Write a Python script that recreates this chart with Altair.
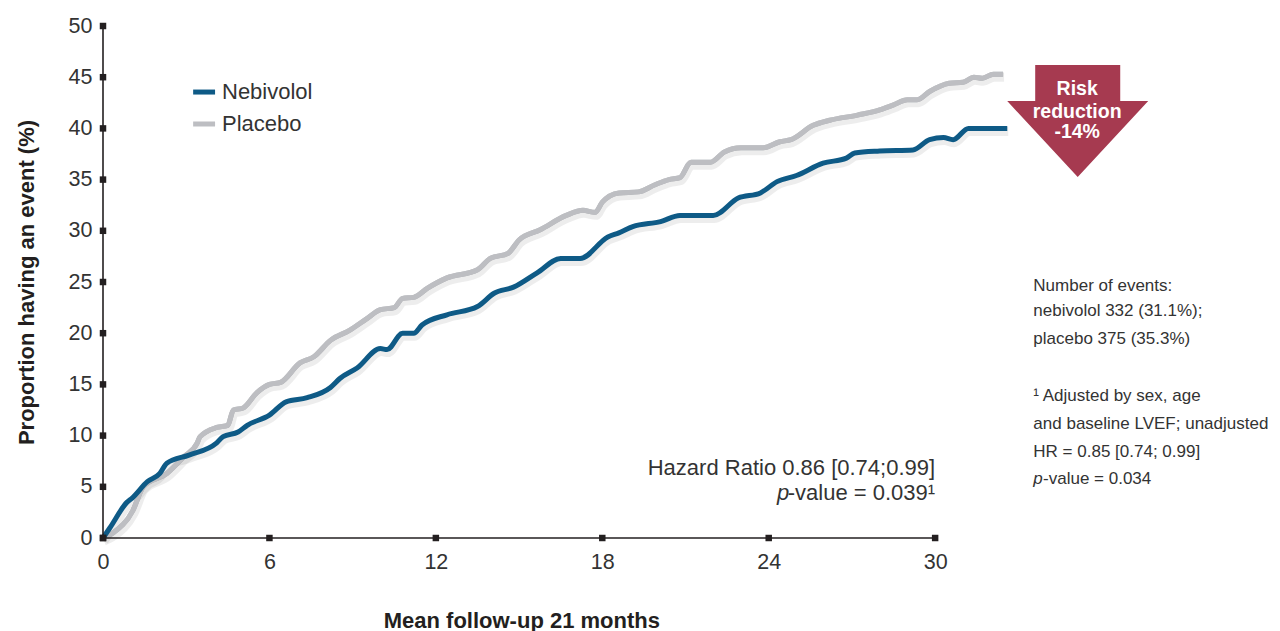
import altair as alt
import pandas as pd

# ---- data ----
neb_month = [0, 0.25, 0.87, 1.05, 1.6, 2.05, 2.3, 3.1, 4.1, 4.33, 4.87, 5.2, 6.0, 6.6, 7.36, 8.2, 8.55,
             9.16, 10.0, 10.24, 10.8, 11.2, 11.5, 12.4, 13.5, 14.1, 14.8, 15.65, 16.5, 17.2, 18.2, 18.6,
             19.1, 20.1, 20.8, 22.0, 22.9, 23.7, 24.3, 25.0, 25.96, 26.8, 27.1, 28.0, 29.2, 29.8, 30.3,
             30.65, 31.2, 32.6]
neb_value = [0, 1.0, 3.5, 3.9, 5.5, 6.3, 7.3, 8.1, 9.3, 9.9, 10.35, 11.0, 12.0, 13.3, 13.7, 14.7, 15.6,
             16.6, 18.5, 18.4, 20.0, 20.0, 20.8, 21.8, 22.6, 23.9, 24.5, 25.9, 27.3, 27.3, 29.4, 29.8,
             30.4, 30.9, 31.5, 31.5, 33.2, 33.7, 34.8, 35.4, 36.6, 37.1, 37.6, 37.8, 37.9, 38.9, 39.1,
             38.9, 40.0, 40.0]
pla_month = [0, 0.36, 1.08, 1.45, 2.3, 2.9, 3.4, 3.5, 4.1, 4.5, 4.7, 5.05, 5.55, 6.0, 6.4, 7.1, 7.6, 8.2,
             8.9, 9.5, 10.0, 10.5, 10.8, 11.2, 11.7, 12.4, 13.5, 13.96, 14.6, 15.0, 15.76, 16.7, 17.3,
             17.74, 18.0, 18.6, 19.3, 19.9, 20.4, 20.8, 21.2, 21.9, 22.4, 23.0, 23.8, 24.4, 24.8, 25.6,
             26.2, 27.2, 28.0, 28.5, 29.0, 29.35, 29.8, 30.5, 31.0, 31.4, 31.7, 32.1, 32.45]
pla_value = [0, 0.5, 2.7, 5.0, 6.3, 7.9, 9.3, 9.9, 10.8, 11.0, 12.5, 12.7, 14.2, 15.0, 15.2, 17.1, 17.7, 19.3,
             20.3, 21.4, 22.3, 22.5, 23.4, 23.5, 24.4, 25.4, 26.2, 27.3, 27.8, 29.1, 30.1, 31.5, 32.0,
             31.8, 32.8, 33.7, 33.8, 34.5, 35.0, 35.2, 36.7, 36.7, 37.7, 38.1, 38.1, 38.7, 38.9, 40.3,
             40.8, 41.3, 41.8, 42.3, 42.8, 42.8, 43.6, 44.4, 44.5, 45.0, 44.9, 45.3, 45.3]

series_names = ["Nebivolol", "Placebo"]
series_colors = ["#0E5A86", "#BDBEC2"]
x_ticks = [0, 6, 12, 18, 24, 30]
y_ticks = [0, 5, 10, 15, 20, 25, 30, 35, 40, 45, 50]

hr_text = "Hazard Ratio 0.86 [0.74;0.99]"
pval_text = "-value = 0.039¹"
arrow_lines = ["Risk", "reduction", "-14%"]
note_lines = ["Number of events:", "nebivolol 332 (31.1%);", "placebo 375 (35.3%)",
              "¹ Adjusted by sex, age", "and baseline LVEF; unadjusted", "HR = 0.85 [0.74; 0.99]"]
note_pval = "-value = 0.034"
x_title = "Mean follow-up 21 months"
y_title = "Proportion having an event (%)"

FONT = "Liberation Sans"
INK = "#231F20"
TXT = "#333333"

X = alt.Scale(domain=[0, 42], nice=False, zero=False)
Y = alt.Scale(domain=[0, 50], nice=False, zero=False)

xaxis = alt.Axis(values=x_ticks, domain=False, ticks=False, grid=False, labelPadding=13,
                 labelFlush=False, labelFontSize=21.5, labelColor=TXT, labelFont=FONT, title=None)
yaxis = alt.Axis(values=y_ticks, domain=False, ticks=False, grid=False, labelPadding=11,
                 labelFlush=False, labelFontSize=21.5, labelColor=TXT, labelFont=FONT,
                 title=y_title, titleFontSize=22, titleFont=FONT,
                 titleFontWeight="bold", titleColor=INK, titlePadding=30)


def xe(f):
    return alt.X(f, scale=X, axis=xaxis)


def ye(f):
    return alt.Y(f, scale=Y, axis=yaxis)


neb = pd.DataFrame({"month": neb_month, "value": neb_value})
pla = pd.DataFrame({"month": pla_month, "value": pla_value})


def shadow(df):
    return alt.Chart(df).mark_line(color="#000000", opacity=0.07, strokeWidth=9, xOffset=1, yOffset=3,
                                   interpolate="monotone").encode(x=xe("month:Q"), y=ye("value:Q"))


def curve(df, color):
    return alt.Chart(df).mark_line(color=color, strokeWidth=5, interpolate="monotone",
                                   strokeJoin="round").encode(x=xe("month:Q"), y=ye("value:Q"))


# axes lines & square ticks
axis_rules = pd.DataFrame({"x": [0, 0], "x2": [30, 0], "y": [0, 0], "y2": [0, 50]})
rules = alt.Chart(axis_rules).mark_rule(color=INK, strokeWidth=1.6).encode(
    x=xe("x:Q"), x2="x2:Q", y=ye("y:Q"), y2="y2:Q")
sq = pd.DataFrame({"x": x_ticks + [0] * len(y_ticks), "y": [0] * len(x_ticks) + y_ticks})
squares = alt.Chart(sq).mark_square(size=42, color=INK, opacity=1).encode(x=xe("x:Q"), y=ye("y:Q"))

# legend
leg = pd.DataFrame({"x": [3.25, 3.25], "x2": [4.04, 4.04], "y": [43.55, 40.43],
                    "xt": [4.29, 4.29], "c": series_colors, "t": series_names})
leg_sw = alt.Chart(leg).mark_rule(strokeWidth=5).encode(
    x=xe("x:Q"), x2="x2:Q", y=ye("y:Q"), color=alt.Color("c:N", scale=None))
leg_tx = alt.Chart(leg).mark_text(align="left", baseline="middle", fontSize=22, font=FONT,
                                  color=TXT).encode(x=xe("xt:Q"), y=ye("y:Q"), text="t:N")


def label(x, y, t, size, align="left", **kw):
    df = pd.DataFrame({"x": x if isinstance(x, list) else [x],
                       "y": y if isinstance(y, list) else [y],
                       "t": t if isinstance(t, list) else [t]})
    return alt.Chart(df).mark_text(align=align, baseline="middle", fontSize=size, font=FONT,
                                   **kw).encode(x=xe("x:Q"), y=ye("y:Q"), text="t:N")


# hazard ratio
hr = label(30, 6.84, hr_text, 22, align="right", color=TXT)
pv = label(30, 4.39, pval_text, 22, align="right", color=TXT)
pp = label(24.74, 4.39, "p", 22, align="right", color=TXT, fontStyle="italic")

# arrow
arrow_path = "M-0.603,-0.794 L0.603,-0.794 L0.603,-0.284 L1,-0.284 L0,0.794 L-1,-0.284 L-0.603,-0.284 Z"
arr_df = pd.DataFrame({"x": [35.14], "y": [40.72]})
arrow = alt.Chart(arr_df).mark_point(shape=arrow_path, size=19881, filled=True, color="#A63A50",
                                     opacity=1, strokeWidth=0).encode(x=xe("x:Q"), y=ye("y:Q"))
arrow_tx = label([35.12] * 3, [43.8, 41.65, 39.6], arrow_lines, 19.5, align="center",
                 color="white", fontWeight="bold")

# right notes
notes = label([33.54] * 6, [24.6, 22.17, 19.43, 13.87, 11.13, 8.4], note_lines, 17, color=TXT)
np_p = label(33.54, 5.76, "p", 17, color=TXT, fontStyle="italic")
np_v = label(33.89, 5.76, note_pval, 17, color=TXT)

# x title
xtitle = label(15.1, -8.1, x_title, 22, align="center", color=INK, fontWeight="bold")

chart = alt.layer(
    curve(pla, series_colors[1]), shadow(pla), shadow(neb), curve(pla, series_colors[1]),
    curve(neb, series_colors[0]), rules, squares,
    leg_sw, leg_tx, hr, pv, pp, arrow, arrow_tx, notes, np_p, np_v, xtitle
).properties(
    width=1165, height=512,
    autosize=alt.AutoSizeParams(type="none"),
    padding={"left": 95, "top": 18, "right": 4, "bottom": 100},
).configure(background="white", view=alt.ViewConfig(stroke=None))

chart.save("out.html", embed_options={"renderer": "svg", "actions": False})
